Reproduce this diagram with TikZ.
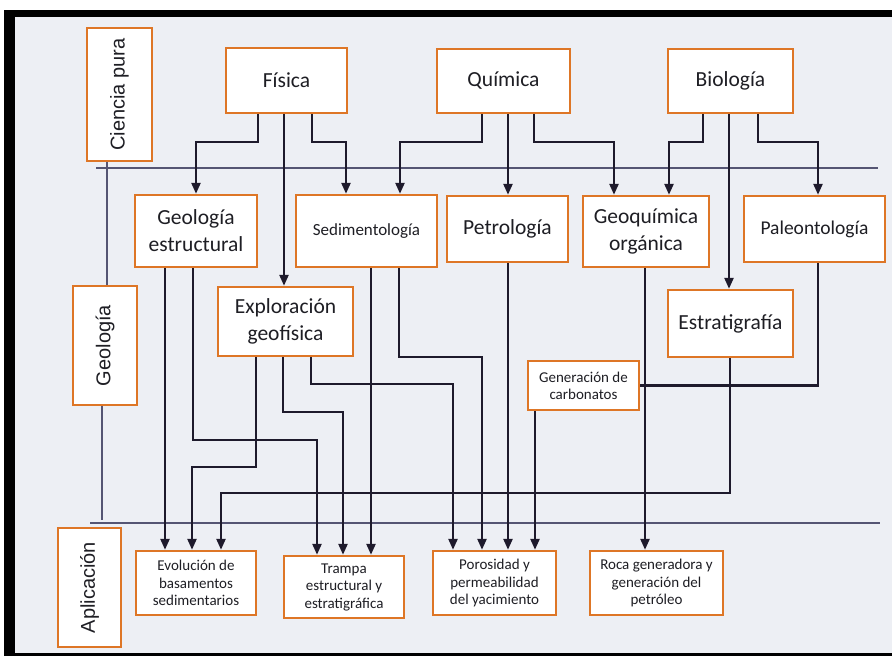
\documentclass[tikz,border=0pt]{standalone}
\usepackage{fontspec}
\setmainfont{Carlito}
\newfontfamily\arialf{Liberation Sans}
\usetikzlibrary{arrows.meta}
\definecolor{boxor}{RGB}{222,118,38}
\definecolor{bgc}{RGB}{237,239,244}
\definecolor{lnc}{RGB}{30,26,44}
\definecolor{divc}{RGB}{85,85,115}
\definecolor{txt}{RGB}{30,30,36}
\begin{document}
\begin{tikzpicture}[x=1pt,y=-1pt,
  bx/.style={draw=boxor,line width=2.4pt,fill=white,inner sep=0pt,align=center,text=txt},
  big/.style={bx,font=\fontsize{21.5}{27}\selectfont},
  small/.style={bx,font=\fontsize{15}{17.5}\selectfont},
  side/.style={bx,font=\arialf\fontsize{20}{24}\selectfont,rotate=90},
  link/.style={draw=lnc,line width=2.4pt},
  arr/.style={link,-{Triangle[length=11pt,width=9pt]}},
  divl/.style={draw=divc,line width=1.2pt}]
\useasboundingbox (0,0) rectangle (892,656);
\fill[white] (0,0) rectangle (892,656);
\fill[black] (4,10) rectangle (892,656);
\fill[bgc] (15,17) rectangle (892,653);

% divider lines
\draw[divl] (96,168) -- (878,168);
\draw[divl] (90,523) -- (880,523);

% side labels (rotated: west anchor is at the bottom, east at the top)
\node[side,minimum width=133pt,minimum height=65pt] (cp) at (119.5,94.5) {Ciencia pura};
\node[side,minimum width=119pt,minimum height=64pt] (geo) at (105,345.5) {Geología};
\node[side,minimum width=119pt,minimum height=63pt] (apl) at (89.5,587.5) {Aplicación};
\draw[divl] (107,0 |- cp.west) -- (107,0 |- geo.east);
\draw[divl] (102,0 |- geo.west) -- (102,520);

% pure science
\node[big,minimum width=121pt,minimum height=65pt] (fis) at (286.5,80.5) {Física};
\node[big,minimum width=133pt,minimum height=64pt] (qui) at (503.5,81) {Química};
\node[big,minimum width=125pt,minimum height=64pt] (bio) at (730.5,81) {Biología};

% geology
\node[big,minimum width=122pt,minimum height=72pt] (ge) at (196,231) {Geología\\estructural};
\node[bx,font=\fontsize{17}{20}\selectfont,minimum width=141pt,minimum height=72pt] (sed) at (366.5,231) {Sedimentología};
\node[big,minimum width=121pt,minimum height=66pt] (pet) at (507.5,229) {Petrología};
\node[big,minimum width=126pt,minimum height=71pt] (gq) at (646,231.5) {Geoquímica\\orgánica};
\node[bx,font=\fontsize{19.5}{23}\selectfont,minimum width=141pt,minimum height=66pt] (pal) at (814.5,229) {Paleontología};
\node[big,minimum width=135pt,minimum height=69pt] (exp) at (285.5,321.5) {Exploración\\geofísica};
\node[big,minimum width=125pt,minimum height=67pt] (est) at (730.5,323.5) {Estratigrafía};
\node[small,font=\fontsize{15}{16.7}\selectfont,minimum width=111pt,minimum height=49pt] (gc) at (583.5,385.5) {Generación de\\carbonatos};

% applications
\node[small,minimum width=120pt,minimum height=64pt] (evo) at (196,583) {Evolución de\\basamentos\\sedimentarios};
\node[small,minimum width=120pt,minimum height=62pt] (tra) at (344,587) {Trampa\\estructural y\\estratigráfica};
\node[small,minimum width=123pt,minimum height=64pt] (por) at (494.5,583) {Porosidad y\\permeabilidad\\del yacimiento};
\node[small,minimum width=133pt,minimum height=64pt] (roc) at (656.5,583) {Roca generadora y\\generación del\\petróleo};

% Fisica
\draw[arr] (258,0 |- fis.south) |- (196,142) -- (ge.north);
\draw[arr] (284,0 |- fis.south) -- (284,0 |- exp.north);
\draw[arr] (312,0 |- fis.south) |- (346,142) -- (346,0 |- sed.north);
% Quimica
\draw[arr] (482,0 |- qui.south) |- (400,142) -- (400,0 |- sed.north);
\draw[arr] (508,0 |- qui.south) -- (508,0 |- pet.north);
\draw[arr] (534,0 |- qui.south) |- (614,142) -- (614,0 |- gq.north);
% Biologia
\draw[arr] (703,0 |- bio.south) |- (669,142) -- (669,0 |- gq.north);
\draw[arr] (729,0 |- bio.south) -- (729,0 |- est.north);
\draw[arr] (758,0 |- bio.south) |- (818,142) -- (818,0 |- pal.north);
% Geologia estructural
\draw[arr] (165,0 |- ge.south) -- (165,0 |- evo.north);
\draw[arr] (193,0 |- ge.south) |- (317,440) -- (317,0 |- tra.north);
% Exploracion geofisica
\draw[arr] (256,0 |- exp.south) |- (192,467) -- (192,0 |- evo.north);
\draw[arr] (283,0 |- exp.south) |- (343,412) -- (343,0 |- tra.north);
\draw[arr] (311,0 |- exp.south) |- (453,384) -- (453,0 |- por.north);
% Sedimentologia
\draw[arr] (371,0 |- sed.south) -- (371,0 |- tra.north);
\draw[arr] (399,0 |- sed.south) |- (482,357) -- (482,0 |- por.north);
% Petrologia, carbonatos, geoquimica
\draw[arr] (508,0 |- pet.south) -- (508,0 |- por.north);
\draw[arr] (535,0 |- gc.south) -- (535,0 |- por.north);
\draw[arr] (645,0 |- gq.south) -- (645,0 |- roc.north);
% Paleontologia
\draw[link] (818,0 |- pal.south) |- (gc.east);
% Estratigrafia
\draw[arr] (730,0 |- est.south) |- (221,493) -- (221,0 |- evo.north);
\end{tikzpicture}
\end{document}
